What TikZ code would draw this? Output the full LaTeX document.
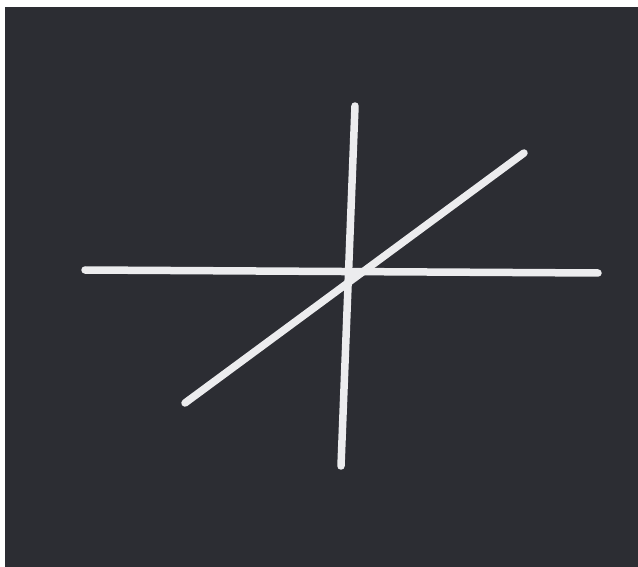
\documentclass[tikz,border=0pt]{standalone}
\definecolor{bgdark}{RGB}{44,45,51}
\definecolor{linelight}{RGB}{236,236,238}
\begin{document}
\begin{tikzpicture}[x=1pt,y=-1pt,
  axis/.style={draw=linelight,line width=7.5pt,line cap=round}]
\useasboundingbox (0,0) rectangle (638,567);
\fill[white] (0,0) rectangle (638,567);
\fill[bgdark] (5,7) rectangle (638,567);
\coordinate (hL) at (85,270);
\coordinate (hR) at (598,273);
\coordinate (vT) at (355,106);
\coordinate (vB) at (341,466);
\coordinate (dL) at (185,403);
\coordinate (dR) at (524,153);
\draw[axis] (hL) -- (hR);
\draw[axis] (vT) -- (vB);
\draw[axis] (dL) -- (dR);
\end{tikzpicture}
\end{document}
